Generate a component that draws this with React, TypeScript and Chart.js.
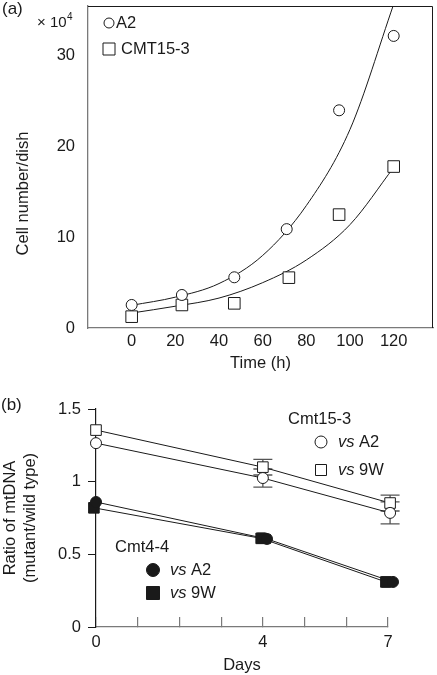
import React, { useEffect, useRef } from 'react';
import { Chart, registerables } from 'chart.js';

Chart.register(...registerables);

const FONT = '"Liberation Sans", Arial, Helvetica, sans-serif';
const INK = '#1a1a1a';
const AXIS_GRAY = '#7a7a7a';
const FS = 16.5;

// ---------- Panel (a): cell growth ----------
const timeA2 = [0, 23, 47, 71, 95, 120];
const cellsA2 = [2.54, 3.64, 5.59, 10.9, 24.0, 32.2];
const timeCMT = [0, 23, 47, 72, 95, 120];
const cellsCMT = [1.25, 2.54, 2.72, 5.55, 12.5, 17.8];
const fitTime = [0, 20, 40, 60, 80, 100, 120];
const fitA2 = [2.5, 3.4, 4.9, 8.0, 13.5, 21.9, 35.7];
const fitCMT = [1.65, 2.4, 3.3, 5.0, 7.5, 11.4, 17.7];
const timeTicks = [0, 20, 40, 60, 80, 100, 120];
const cellTicks = [0, 10, 20, 30];

// ---------- Panel (b): mtDNA ratio ----------
const daysOpenA2 = [0, 4, 7.05];
const ratioOpenA2 = [1.265, 1.025, 0.785];
const errOpenA2 = [0, 0.062, 0.076];
const daysOpen9W = [0, 4, 7.05];
const ratioOpen9W = [1.355, 1.1, 0.853];
const errOpen9W = [0, 0.054, 0.055];
const daysFilledA2 = [0, 4.1, 7.12];
const ratioFilledA2 = [0.86, 0.606, 0.31];
const errFilledA2 = [0, 0.03, 0.02];
const daysFilled9W = [-0.05, 3.96, 6.95];
const ratioFilled9W = [0.82, 0.61, 0.31];
const errFilled9W = [0, 0.035, 0.035];
const dayTickMarks = [0, 1, 2, 3, 4, 5, 6, 7];
const dayTickLabels = [0, 4, 7];
const ratioTicks = [0, 0.5, 1, 1.5];

const font = (size = FS, style = 'normal') => ({ family: FONT, size, style });

const zeroPad = (s: any) => {
  s.paddingLeft = 0;
  s.paddingRight = 0;
  s.paddingTop = 0;
  s.paddingBottom = 0;
};

const pts = (xs: number[], ys: number[]) => xs.map((x, i) => ({ x, y: ys[i] }));

function drawCircle(ctx: CanvasRenderingContext2D, x: number, y: number, r: number, filled: boolean) {
  ctx.beginPath();
  ctx.arc(x, y, r, 0, Math.PI * 2);
  ctx.fillStyle = filled ? INK : '#fff';
  ctx.fill();
  ctx.lineWidth = 1;
  ctx.strokeStyle = INK;
  ctx.stroke();
}

function drawSquare(ctx: CanvasRenderingContext2D, x: number, y: number, side: number, filled: boolean) {
  ctx.beginPath();
  ctx.rect(x - side / 2, y - side / 2, side, side);
  ctx.fillStyle = filled ? INK : '#fff';
  ctx.fill();
  ctx.lineWidth = 1;
  ctx.strokeStyle = INK;
  ctx.stroke();
}

function vsLabel(ctx: CanvasRenderingContext2D, x: number, y: number, rest: string) {
  ctx.textAlign = 'left';
  ctx.textBaseline = 'middle';
  ctx.fillStyle = INK;
  ctx.font = `italic ${FS}px ${FONT}`;
  ctx.fillText('vs', x, y);
  const w = ctx.measureText('vs ').width;
  ctx.font = `${FS}px ${FONT}`;
  ctx.fillText(rest, x + w, y);
}

const annotA = {
  id: 'annotA',
  afterDraw(chart: any) {
    const { ctx, chartArea: ca } = chart;
    ctx.save();
    ctx.strokeStyle = INK;
    ctx.lineWidth = 1;
    const t = Math.round(ca.top) + 0.5;
    const r = Math.round(ca.right) - 0.5;
    ctx.beginPath();
    ctx.moveTo(ca.left, t);
    ctx.lineTo(r, t);
    ctx.lineTo(r, ca.bottom);
    ctx.stroke();

    ctx.fillStyle = INK;
    ctx.textBaseline = 'middle';
    ctx.textAlign = 'left';
    ctx.font = `17px ${FONT}`;
    ctx.fillText('(a)', 2, 9);

    ctx.font = `15px ${FONT}`;
    ctx.fillText('× 10', 37, 23);
    const w = ctx.measureText('× 10').width;
    ctx.font = `10px ${FONT}`;
    ctx.fillText('4', 37 + w + 0.5, 17);

    ctx.save();
    ctx.translate(23, 193.5);
    ctx.rotate(-Math.PI / 2);
    ctx.textAlign = 'center';
    ctx.font = `${FS}px ${FONT}`;
    ctx.fillText('Cell number/dish', 0, 0);
    ctx.restore();

    const ds = chart.data.datasets;
    drawCircle(ctx, 109, 23, 5, false);
    drawSquare(ctx, 109, 49, 12, false);
    ctx.fillStyle = INK;
    ctx.font = `${FS}px ${FONT}`;
    ctx.textAlign = 'left';
    ctx.textBaseline = 'middle';
    ctx.fillText(ds[0].label, 116, 23);
    ctx.fillText(ds[1].label, 121, 49);
    ctx.restore();
  },
};

const errorSets = [
  { xs: daysOpenA2, ys: ratioOpenA2, err: errOpenA2, cap: 9.5 },
  { xs: daysOpen9W, ys: ratioOpen9W, err: errOpen9W, cap: 9.5 },
  { xs: daysFilledA2, ys: ratioFilledA2, err: errFilledA2, cap: 4 },
  { xs: daysFilled9W, ys: ratioFilled9W, err: errFilled9W, cap: 4 },
];

const annotB = {
  id: 'annotB',
  beforeDatasetsDraw(chart: any) {
    const { ctx, scales } = chart;
    const xs = scales.x;
    const ys = scales.y;
    ctx.save();
    ctx.strokeStyle = '#555';
    ctx.lineWidth = 1.3;
    errorSets.forEach((set) => {
      set.xs.forEach((d, i) => {
        const e = set.err[i];
        if (!e) return;
        const px = xs.getPixelForValue(d);
        const y1 = ys.getPixelForValue(set.ys[i] + e);
        const y2 = ys.getPixelForValue(set.ys[i] - e);
        ctx.beginPath();
        ctx.moveTo(px, y1);
        ctx.lineTo(px, y2);
        ctx.moveTo(px - set.cap, y1);
        ctx.lineTo(px + set.cap, y1);
        ctx.moveTo(px - set.cap, y2);
        ctx.lineTo(px + set.cap, y2);
        ctx.stroke();
      });
    });
    ctx.restore();
  },
  afterDraw(chart: any) {
    const { ctx } = chart;
    ctx.save();
    ctx.fillStyle = INK;
    ctx.textAlign = 'left';
    ctx.textBaseline = 'middle';
    ctx.font = `17px ${FONT}`;
    ctx.fillText('(b)', 1, 30);

    ctx.font = `${FS}px ${FONT}`;
    ctx.fillText('Cmt15-3', 288, 44);
    drawCircle(ctx, 321, 67, 6, false);
    vsLabel(ctx, 338, 67, 'A2');
    drawSquare(ctx, 321, 95, 11, false);
    vsLabel(ctx, 338, 95, '9W');

    ctx.fillStyle = INK;
    ctx.font = `${FS}px ${FONT}`;
    ctx.fillText('Cmt4-4', 115, 172);
    drawCircle(ctx, 153, 195, 6.5, true);
    vsLabel(ctx, 170, 195, 'A2');
    drawSquare(ctx, 153, 218, 13, true);
    vsLabel(ctx, 170, 218, '9W');
    ctx.restore();
  },
};

function PanelA() {
  const ref = useRef<HTMLCanvasElement>(null);
  useEffect(() => {
    if (!ref.current) return;
    const chart = new Chart(ref.current, {
      type: 'line',
      data: {
        datasets: [
          {
            label: 'A2',
            data: pts(timeA2, cellsA2),
            showLine: false,
            pointStyle: 'circle',
            pointRadius: 5.5,
            pointBackgroundColor: '#fff',
            pointBorderColor: INK,
            pointBorderWidth: 1,
            borderColor: INK,
            clip: false,
          },
          {
            label: 'CMT15-3',
            data: pts(timeCMT, cellsCMT),
            showLine: false,
            pointStyle: 'rect',
            pointRadius: 8.2,
            pointBackgroundColor: '#fff',
            pointBorderColor: INK,
            pointBorderWidth: 1,
            borderColor: INK,
            clip: false,
          },
          {
            label: 'A2 fit',
            data: pts(fitTime, fitA2),
            pointRadius: 0,
            borderColor: INK,
            borderWidth: 1,
            cubicInterpolationMode: 'monotone',
          },
          {
            label: 'CMT15-3 fit',
            data: pts(fitTime, fitCMT),
            pointRadius: 0,
            borderColor: INK,
            borderWidth: 1,
            cubicInterpolationMode: 'monotone',
          },
        ],
      } as any,
      options: {
        responsive: false,
        animation: false,
        events: [],
        layout: { autoPadding: false, padding: { top: 6, right: 4, left: 0, bottom: 0 } },
        plugins: { legend: { display: false }, tooltip: { enabled: false } },
        scales: {
          x: {
            type: 'linear',
            min: -20,
            max: 138,
            afterBuildTicks: (s: any) => {
              s.ticks = timeTicks.map((v) => ({ value: v }));
            },
            afterFit: (s: any) => {
              s.height = 47;
              zeroPad(s);
            },
            grid: { display: false, drawTicks: false },
            border: { display: true, color: AXIS_GRAY, width: 1.3 },
            ticks: {
              padding: 4,
              color: INK,
              font: font(),
              maxRotation: 0,
              autoSkip: false,
              callback: (v: any) => String(v),
            },
            title: {
              display: true,
              text: 'Time (h)',
              color: INK,
              font: font(),
              padding: { top: 0, bottom: 2 },
            },
          },
          y: {
            type: 'linear',
            min: 0,
            max: 35.5,
            afterBuildTicks: (s: any) => {
              s.ticks = cellTicks.map((v) => ({ value: v }));
            },
            afterFit: (s: any) => {
              s.width = 88;
              zeroPad(s);
            },
            grid: { display: false, drawTicks: false },
            border: { display: true, color: AXIS_GRAY, width: 1.3 },
            ticks: {
              padding: 13,
              color: INK,
              font: font(),
              autoSkip: false,
              callback: (v: any) => String(v),
            },
          },
        },
      } as any,
      plugins: [annotA],
    });
    return () => chart.destroy();
  }, []);
  return (
    <canvas
      ref={ref}
      width={437}
      height={375}
      style={{ position: 'absolute', left: 0, top: 0, display: 'block' }}
    />
  );
}

function PanelB() {
  const ref = useRef<HTMLCanvasElement>(null);
  useEffect(() => {
    if (!ref.current) return;
    const common = {
      borderColor: INK,
      borderWidth: 1,
      pointBorderColor: INK,
      pointBorderWidth: 1,
      tension: 0,
      clip: false,
    };
    const chart = new Chart(ref.current, {
      type: 'line',
      data: {
        datasets: [
          {
            ...common,
            label: 'Cmt15-3 vs A2',
            data: pts(daysOpenA2, ratioOpenA2),
            pointStyle: 'circle',
            pointRadius: 5.5,
            pointBackgroundColor: '#fff',
          },
          {
            ...common,
            label: 'Cmt15-3 vs 9W',
            data: pts(daysOpen9W, ratioOpen9W),
            pointStyle: 'rect',
            pointRadius: 7.5,
            pointBackgroundColor: '#fff',
          },
          {
            ...common,
            label: 'Cmt4-4 vs A2',
            data: pts(daysFilledA2, ratioFilledA2),
            pointStyle: 'circle',
            pointRadius: 5.5,
            pointBackgroundColor: INK,
          },
          {
            ...common,
            label: 'Cmt4-4 vs 9W',
            data: pts(daysFilled9W, ratioFilled9W),
            pointStyle: 'rect',
            pointRadius: 7.5,
            pointBackgroundColor: INK,
          },
        ],
      } as any,
      options: {
        responsive: false,
        animation: false,
        events: [],
        layout: { autoPadding: false, padding: { top: 34, right: 49, left: 0, bottom: 0 } },
        plugins: { legend: { display: false }, tooltip: { enabled: false } },
        scales: {
          x: {
            type: 'linear',
            min: 0,
            max: 7,
            afterBuildTicks: (s: any) => {
              s.ticks = dayTickMarks.map((v) => ({ value: v }));
            },
            afterFit: (s: any) => {
              s.height = 48;
              zeroPad(s);
            },
            grid: {
              display: true,
              drawOnChartArea: false,
              drawTicks: true,
              tickLength: -10,
              color: AXIS_GRAY,
              lineWidth: 1.2,
            },
            border: { display: true, color: AXIS_GRAY, width: 1.3 },
            ticks: {
              padding: 16,
              color: INK,
              font: font(),
              maxRotation: 0,
              autoSkip: false,
              callback: (v: any) => (dayTickLabels.includes(v) ? String(v) : ''),
            },
            title: {
              display: true,
              text: 'Days',
              color: INK,
              font: font(),
              padding: { top: 0, bottom: 0 },
            },
          },
          y: {
            type: 'linear',
            min: 0,
            max: 1.5,
            afterBuildTicks: (s: any) => {
              s.ticks = ratioTicks.map((v) => ({ value: v }));
            },
            afterFit: (s: any) => {
              s.width = 96;
              zeroPad(s);
            },
            grid: {
              display: true,
              drawOnChartArea: false,
              drawTicks: true,
              tickLength: 8,
              color: INK,
              lineWidth: 1,
            },
            border: { display: true, color: INK, width: 1.2 },
            ticks: {
              padding: 7,
              color: INK,
              font: font(),
              autoSkip: false,
              callback: (v: any) => String(v),
            },
            title: {
              display: true,
              text: ['Ratio of mtDNA', '(mutant/wild type)'],
              color: INK,
              font: font(),
              padding: { top: 1, bottom: 0 },
            },
          },
        },
      } as any,
      plugins: [annotB],
    });
    return () => chart.destroy();
  }, []);
  return (
    <canvas
      ref={ref}
      width={437}
      height={300}
      style={{ position: 'absolute', left: 0, top: 375, display: 'block' }}
    />
  );
}

export default function App() {
  return (
    <div
      style={{
        position: 'fixed',
        left: 0,
        top: 0,
        width: 437,
        height: 675,
        background: '#fff',
        overflow: 'hidden',
      }}
    >
      <PanelA />
      <PanelB />
    </div>
  );
}
